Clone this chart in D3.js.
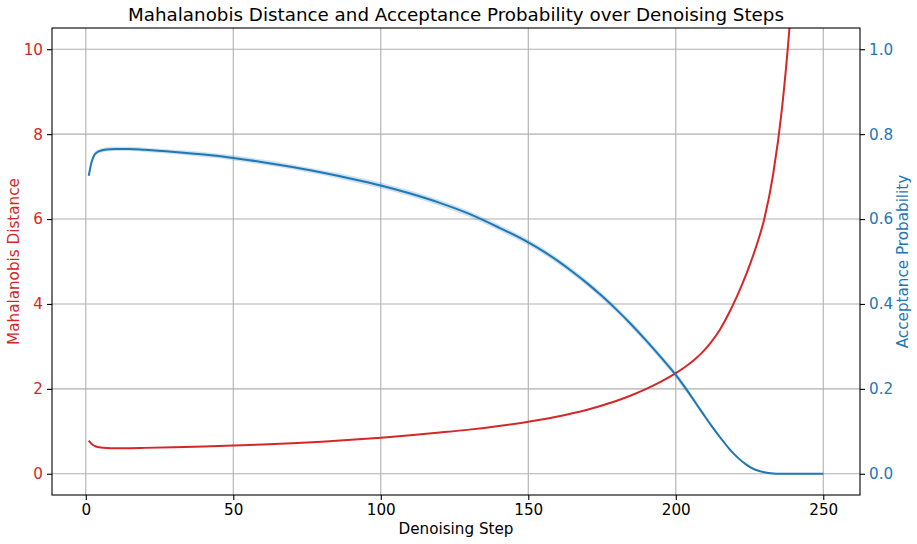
<!DOCTYPE html>
<html>
<head>
<meta charset="utf-8">
<script src="https://cdn.jsdelivr.net/npm/d3@7"></script>
<style>
  body { margin: 0; background: #fff; }
  text { font-family: "DejaVu Sans", sans-serif; }
</style>
</head>
<body>
<svg id="chart" width="917" height="544"></svg>
<script>
// ---- data ----
const steps = [1,2,3,4,5,7,10,15,20,30,40,50,60,70,80,90,100,110,120,130,140,150,155,160,165,170,175,180,185,190,195,200,203,206,209,212,215,218,221,224,227,230,233,236,239,242,245,250];
const mahalanobis = [0.78,0.70,0.655,0.63,0.62,0.608,0.603,0.604,0.61,0.625,0.643,0.665,0.69,0.72,0.755,0.80,0.85,0.905,0.97,1.04,1.125,1.225,1.285,1.35,1.425,1.51,1.61,1.72,1.85,2.0,2.17,2.37,2.51,2.67,2.86,3.1,3.4,3.78,4.22,4.72,5.3,6.0,7.05,8.6,10.9,14.0,18.0,27];
const mahalanobisStd = [0.01,0.01,0.01,0.008,0.008,0.008,0.008,0.008,0.008,0.008,0.008,0.008,0.008,0.008,0.008,0.008,0.008,0.008,0.008,0.008,0.008,0.008,0.009,0.01,0.01,0.01,0.01,0.01,0.01,0.01,0.01,0.012,0.012,0.013,0.014,0.015,0.017,0.02,0.022,0.025,0.03,0.035,0.04,0.05,0.06,0.08,0.1,0.15];
const acceptance = [0.702,0.735,0.752,0.758,0.761,0.764,0.765,0.765,0.763,0.758,0.752,0.744,0.734,0.7225,0.7095,0.695,0.679,0.660,0.638,0.612,0.580,0.545,0.5245,0.5015,0.476,0.4485,0.4185,0.386,0.351,0.3135,0.274,0.233,0.2045,0.1745,0.144,0.114,0.086,0.060,0.038,0.021,0.0095,0.0035,0.0008,0.0001,0,0,0,0];
const acceptanceStd = [0.004,0.005,0.005,0.005,0.005,0.005,0.005,0.005,0.005,0.005,0.006,0.006,0.006,0.006,0.006,0.007,0.007,0.007,0.007,0.007,0.007,0.007,0.007,0.007,0.007,0.007,0.007,0.007,0.007,0.007,0.007,0.007,0.007,0.006,0.005,0.004,0.004,0.003,0.002,0.002,0.001,0.001,0,0,0,0,0,0];
const xTicks = [0,50,100,150,200,250];
const leftTicks = [0,2,4,6,8,10];
const rightTicks = [0,0.2,0.4,0.6,0.8,1.0];

const titleText = "Mahalanobis Distance and Acceptance Probability over Denoising Steps";
const xLabel = "Denoising Step";
const leftLabel = "Mahalanobis Distance";
const rightLabel = "Acceptance Probability";

const red = "#d62728", blue = "#1f77b4";

// ---- layout ----
const svg = d3.select("#chart");
const L = 52, R = 860, T = 28, B = 495;
const FS = 15.2;

const x = d3.scaleLinear().domain([-11.45, 262.45]).range([L, R]);
const yL = d3.scaleLinear().domain([-0.5, 10.5]).range([B, T]);
const yR = d3.scaleLinear().domain([-0.05, 1.05]).range([B, T]);

svg.append("defs").append("clipPath").attr("id", "clip")
  .append("rect").attr("x", L).attr("y", T).attr("width", R - L).attr("height", B - T);

// grid
const grid = svg.append("g").attr("stroke", "#b0b0b0").attr("stroke-width", 1.1);
xTicks.forEach(t => grid.append("line").attr("x1", x(t)).attr("x2", x(t)).attr("y1", T).attr("y2", B));
leftTicks.forEach(t => grid.append("line").attr("x1", L).attr("x2", R).attr("y1", yL(t)).attr("y2", yL(t)));

const plot = svg.append("g").attr("clip-path", "url(#clip)");
const idx = d3.range(steps.length);

// bands
plot.append("path")
  .attr("d", d3.area().curve(d3.curveMonotoneX)
    .x(i => x(steps[i])).y0(i => yL(mahalanobis[i] - mahalanobisStd[i])).y1(i => yL(mahalanobis[i] + mahalanobisStd[i]))(idx))
  .attr("fill", red).attr("fill-opacity", 0.2);
plot.append("path")
  .attr("d", d3.area().curve(d3.curveMonotoneX)
    .x(i => x(steps[i])).y0(i => yR(acceptance[i] - acceptanceStd[i])).y1(i => yR(acceptance[i] + acceptanceStd[i]))(idx))
  .attr("fill", blue).attr("fill-opacity", 0.22);

// lines
plot.append("path")
  .attr("d", d3.line().curve(d3.curveMonotoneX).x(i => x(steps[i])).y(i => yL(mahalanobis[i]))(idx))
  .attr("fill", "none").attr("stroke", red).attr("stroke-width", 2);
plot.append("path")
  .attr("d", d3.line().curve(d3.curveMonotoneX).x(i => x(steps[i])).y(i => yR(acceptance[i]))(idx))
  .attr("fill", "none").attr("stroke", blue).attr("stroke-width", 2);

// axes
const xAxis = svg.append("g").attr("transform", `translate(0,${B})`)
  .call(d3.axisBottom(x).tickValues(xTicks).tickSize(5).tickPadding(4).tickFormat(d3.format("d")));
const lAxis = svg.append("g").attr("transform", `translate(${L},0)`)
  .call(d3.axisLeft(yL).tickValues(leftTicks).tickSize(5).tickPadding(4).tickFormat(d3.format("d")));
const rAxis = svg.append("g").attr("transform", `translate(${R},0)`)
  .call(d3.axisRight(yR).tickValues(rightTicks).tickSize(5).tickPadding(4).tickFormat(d3.format(".1f")));

[xAxis, lAxis, rAxis].forEach(a => {
  a.select(".domain").remove();
  a.selectAll("text").attr("font-size", FS).attr("font-family", "DejaVu Sans");
  a.selectAll("line").attr("stroke-width", 1.1).attr("stroke", "#000");
});
xAxis.selectAll("text").attr("fill", "#000");
lAxis.selectAll("text").attr("fill", red);
rAxis.selectAll("text").attr("fill", blue);

// spines
svg.append("rect").attr("x", L).attr("y", T).attr("width", R - L).attr("height", B - T)
  .attr("fill", "none").attr("stroke", "#000").attr("stroke-width", 1.1);

// labels
svg.append("text").attr("x", (L + R) / 2).attr("y", 21).attr("text-anchor", "middle")
  .attr("font-size", 18.3).attr("fill", "#000").text(titleText);
svg.append("text").attr("x", (L + R) / 2).attr("y", 534).attr("text-anchor", "middle")
  .attr("font-size", FS).attr("fill", "#000").text(xLabel);
svg.append("text").attr("transform", `translate(19,${(T + B) / 2}) rotate(-90)`).attr("text-anchor", "middle")
  .attr("font-size", FS).attr("fill", red).text(leftLabel);
svg.append("text").attr("transform", `translate(908,${(T + B) / 2}) rotate(-90)`).attr("text-anchor", "middle")
  .attr("font-size", FS).attr("fill", blue).text(rightLabel);
</script>
</body>
</html>
